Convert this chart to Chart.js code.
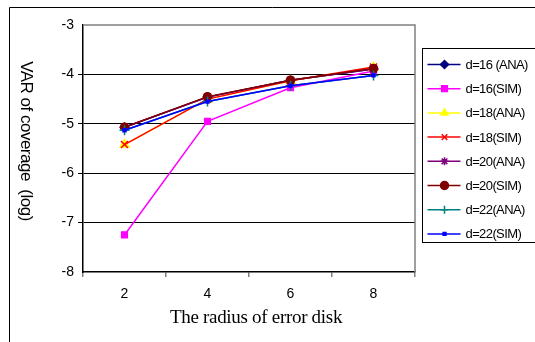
<!DOCTYPE html>
<html>
<head>
<meta charset="utf-8">
<script src="https://cdn.jsdelivr.net/npm/chart.js@4"></script>
<style>
  html, body { margin: 0; padding: 0; background: #fff; }
  #wrap { position: relative; width: 535px; height: 342px; }
</style>
</head>
<body>
<div id="wrap"><canvas id="c" width="535" height="342"></canvas></div>
<script>
// radius values on the x axis
const radius = ["2", "4", "6", "8"];
const yTicks = [-3, -4, -5, -6, -7, -8];

// (log of VAR of coverage)
const d16Ana = [-5.07, -4.46, -4.12, -3.89];
const d16Sim = [-7.25, -4.95, -4.27, -3.93];
const d18Ana = [-5.42, -4.50, -4.13, -3.86];
const d18Sim = [-5.42, -4.50, -4.13, -3.85];
const d20Ana = [-5.07, -4.46, -4.12, -3.89];
const d20Sim = [-5.07, -4.45, -4.12, -3.88];
const d22Ana = [-5.13, -4.55, -4.23, -4.02];
const d22Sim = [-5.13, -4.55, -4.23, -4.02];

const seriesLabels = ["d=16 (ANA)", "d=16(SIM)", "d=18(ANA)", "d=18(SIM)",
                      "d=20(ANA)", "d=20(SIM)", "d=22(ANA)", "d=22(SIM)"];

const mk = (i, data, color, style, r) => ({
    label: seriesLabels[i],
    data: data,
    order: 8 - i, // later series drawn on top, like the original
    borderColor: color,
    backgroundColor: color,
    borderWidth: 1.5,
    pointStyle: style,
    pointRadius: r,
    pointBorderWidth: 1.5,
    pointBorderColor: color,
    pointBackgroundColor: color,
    tension: 0
});

const datasets = [
    mk(0, d16Ana, "#000080", "rectRot", 4),
    mk(1, d16Sim, "#ff00ff", "rect", 4),
    mk(2, d18Ana, "#ffff00", "triangle", 5),
    mk(3, d18Sim, "#ff0000", "crossRot", 5),
    mk(4, d20Ana, "#800080", "star", 5),
    mk(5, d20Sim, "#800000", "circle", 4),
    mk(6, d22Ana, "#008080", "cross", 5),
    mk(7, d22Sim, "#0000ff", "rect", 2)
];

const FONT = "'Liberation Sans', Arial, sans-serif";

// frame, axis titles, box legend
const decor = {
    id: "decor",
    beforeDraw(chart) {
        const ctx = chart.ctx;
        ctx.save();
        ctx.fillStyle = "#fff";
        ctx.fillRect(0, 0, chart.width, chart.height);
        ctx.strokeStyle = "#000";
        ctx.lineWidth = 1;
        ctx.beginPath();
        ctx.moveTo(9.5, chart.height);
        ctx.lineTo(9.5, 7.5);
        ctx.lineTo(chart.width, 7.5);
        ctx.stroke();
        ctx.restore();
    },
    afterDraw(chart) {
        const ctx = chart.ctx;
        const a = chart.chartArea;
        ctx.save();
        // top/right plot border
        ctx.strokeStyle = "#808080";
        ctx.lineWidth = 1.5;
        ctx.beginPath();
        ctx.moveTo(a.left, a.top);
        ctx.lineTo(a.right, a.top);
        ctx.lineTo(a.right, a.bottom);
        ctx.stroke();

        // x title
        ctx.fillStyle = "#000";
        ctx.textAlign = "center";
        ctx.textBaseline = "middle";
        ctx.font = "19px 'Liberation Serif', 'Times New Roman', serif";
        if ("letterSpacing" in ctx) ctx.letterSpacing = "-0.3px";
        ctx.fillText("The radius of error disk", 256, 318);

        // y title, reading top to bottom
        ctx.font = "17px " + FONT;
        ctx.translate(26, 141);
        ctx.rotate(Math.PI / 2);
        if ("letterSpacing" in ctx) ctx.letterSpacing = "-0.5px";
        ctx.fillText("VAR of coverage  (log)", 0, 0);
        ctx.setTransform(1, 0, 0, 1, 0, 0);
        if ("letterSpacing" in ctx) ctx.letterSpacing = "-0.6px";

        // legend box
        const bx = 422.5, by = 48.5, bw = 130, bh = 194;
        ctx.strokeStyle = "#000";
        ctx.lineWidth = 1;
        ctx.strokeRect(bx, by, bw, bh);
        ctx.font = "13px " + FONT;
        ctx.textAlign = "left";
        chart.data.datasets.forEach((ds, i) => {
            const y = by + 16 + i * 24.2;
            ctx.strokeStyle = ds.borderColor;
            ctx.lineWidth = 1.5;
            ctx.beginPath();
            ctx.moveTo(bx + 5, y);
            ctx.lineTo(bx + 38, y);
            ctx.stroke();
            ctx.fillStyle = ds.pointBackgroundColor;
            ctx.strokeStyle = ds.pointBorderColor;
            Chart.helpers.drawPoint(ctx, {
                pointStyle: ds.pointStyle,
                radius: Math.min(ds.pointRadius, 4),
                rotation: 0,
                borderWidth: ds.pointBorderWidth
            }, bx + 22, y);
            ctx.fillStyle = "#000";
            ctx.fillText(ds.label, bx + 43, y + 1);
        });
        ctx.restore();
    }
};

new Chart(document.getElementById("c"), {
    type: "line",
    data: { labels: radius, datasets: datasets },
    plugins: [decor],
    options: {
        responsive: false,
        animation: false,
        events: [],
        layout: { padding: { left: 0, right: 120, top: 25, bottom: 0 } },
        plugins: { legend: { display: false }, tooltip: { enabled: false } },
        scales: {
            x: {
                offset: true,
                grid: { offset: true, drawOnChartArea: false, tickLength: 5, color: "#808080", lineWidth: 1.5 },
                border: { color: "#000", width: 1.5 },
                ticks: { color: "#000", padding: 9, font: { size: 14, family: FONT } },
                afterFit(scale) { scale.height = 70; }
            },
            y: {
                min: -8, max: -3,
                afterBuildTicks(scale) { scale.ticks = yTicks.map(v => ({ value: v })); },
                grid: {
                    tickLength: 5,
                    color: ctx => (ctx.tick && (ctx.tick.value === -3 || ctx.tick.value === -8)) ? "rgba(0,0,0,0)" : "#000",
                    lineWidth: 1
                },
                border: { color: "#000", width: 1.5 },
                ticks: { color: "#000", padding: 4, font: { size: 14, family: FONT },
                         callback: v => String(v) },
                afterFit(scale) { scale.width = 83; }
            }
        }
    }
});
</script>
</body>
</html>
